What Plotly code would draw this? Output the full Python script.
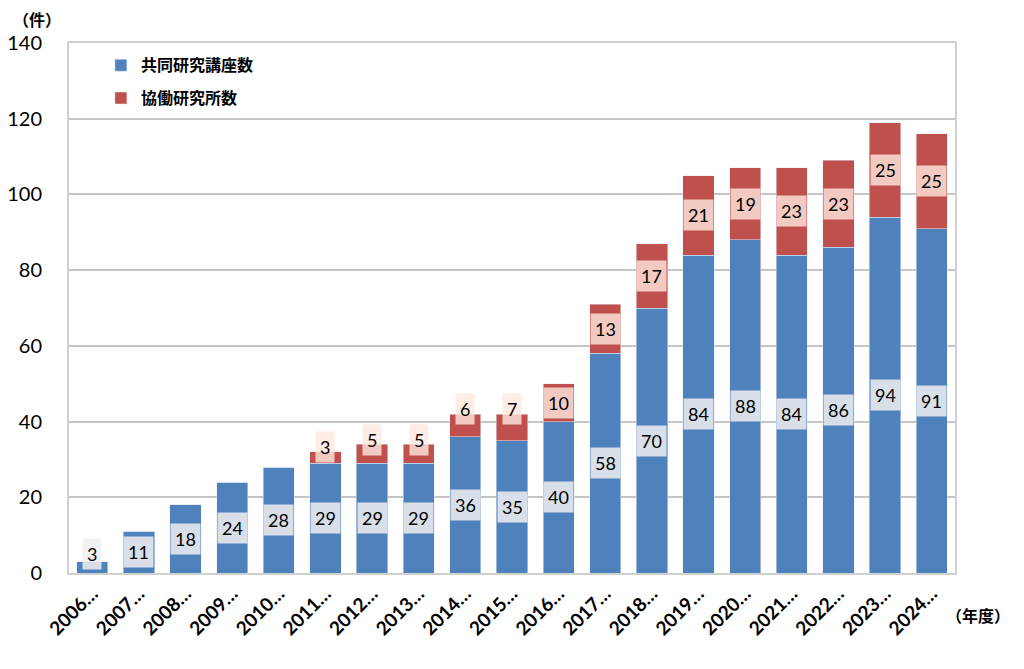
import plotly.graph_objects as go

years = ["2006年度", "2007年度", "2008年度", "2009年度", "2010年度", "2011年度", "2012年度",
         "2013年度", "2014年度", "2015年度", "2016年度", "2017年度", "2018年度", "2019年度",
         "2020年度", "2021年度", "2022年度", "2023年度", "2024年度"]
tick_labels = ["2006…", "2007…", "2008…", "2009…", "2010…", "2011…", "2012…", "2013…",
               "2014…", "2015…", "2016…", "2017…", "2018…", "2019…", "2020…", "2021…",
               "2022…", "2023…", "2024…"]
joint_courses = [3, 11, 18, 24, 28, 29, 29, 29, 36, 35, 40, 58, 70, 84, 88, 84, 86, 94, 91]
collab_labs = [0, 0, 0, 0, 0, 3, 5, 5, 6, 7, 10, 13, 17, 21, 19, 23, 23, 25, 25]

BLUE = "#4f81bd"
RED = "#c0504d"
FONT = "Lato, 'Noto Sans CJK JP', sans-serif"

fig = go.Figure()
fig.add_trace(go.Bar(x=years, y=joint_courses, name="<b>共同研究講座数</b>",
                     marker=dict(color=BLUE), legendgroup="a"))
fig.add_trace(go.Bar(x=years, y=collab_labs, name="<b>協働研究所数</b>",
                     marker=dict(color=RED), legendgroup="b"))

annotations = []
for yr, b, r in zip(years, joint_courses, collab_labs):
    yb = max(b / 2, 5)
    annotations.append(dict(x=yr, y=yb, text=str(b), showarrow=False,
                            font=dict(size=18, color="black", family=FONT),
                            bgcolor="rgba(240,240,240,0.85)", borderpad=4))
    if r > 0:
        yr_c = b + r / 2 if r >= 9 else b + r + 1.2
        annotations.append(dict(x=yr, y=yr_c, text=str(r), showarrow=False,
                                font=dict(size=18, color="black", family=FONT),
                                bgcolor="rgba(255,233,222,0.8)", borderpad=4))

annotations.append(dict(xref="paper", yref="paper", x=-0.036, y=1.045, xanchor="center",
                        yanchor="middle", text="<b>（件）</b>", showarrow=False,
                        font=dict(size=16, color="black", family="Noto Sans CJK JP")))
annotations.append(dict(xref="paper", yref="paper", x=1.064, y=-0.08, xanchor="right",
                        yanchor="middle", text="<b>（年度）</b>", showarrow=False,
                        font=dict(size=16, color="black", family="Noto Sans CJK JP")))

fig.update_layout(
    width=1024, height=669,
    barmode="stack", bargap=0.33,
    paper_bgcolor="white", plot_bgcolor="white",
    margin=dict(l=61, r=77, t=35, b=104),
    font=dict(family=FONT, color="black"),
    showlegend=True,
    legend=dict(x=0.036, y=0.99, xanchor="left", yanchor="top",
                font=dict(size=16, family="Noto Sans CJK JP", color="black"),
                tracegroupgap=9, bgcolor="rgba(0,0,0,0)", traceorder="grouped"),
    annotations=annotations,
)
fig.update_xaxes(type="category", categoryarray=years, range=[-0.5, len(years) - 0.5],
                 tickvals=years, ticktext=["<b>" + t + "</b>" for t in tick_labels],
                 tickangle=-45, tickfont=dict(size=19, family=FONT, color="black"),
                 showline=True, linecolor="#d0d0d0", linewidth=2, mirror=True,
                 showgrid=False, ticks="", automargin=False)
fig.update_yaxes(range=[0, 140], dtick=20, tickfont=dict(size=20, family=FONT, color="black"),
                 showgrid=True, gridcolor="#c4c4c4", gridwidth=2,
                 showline=True, linecolor="#d0d0d0", linewidth=2, mirror=True,
                 ticks="", ticklabelstandoff=21, zeroline=False, automargin=False)

fig.write_html("out.html")
